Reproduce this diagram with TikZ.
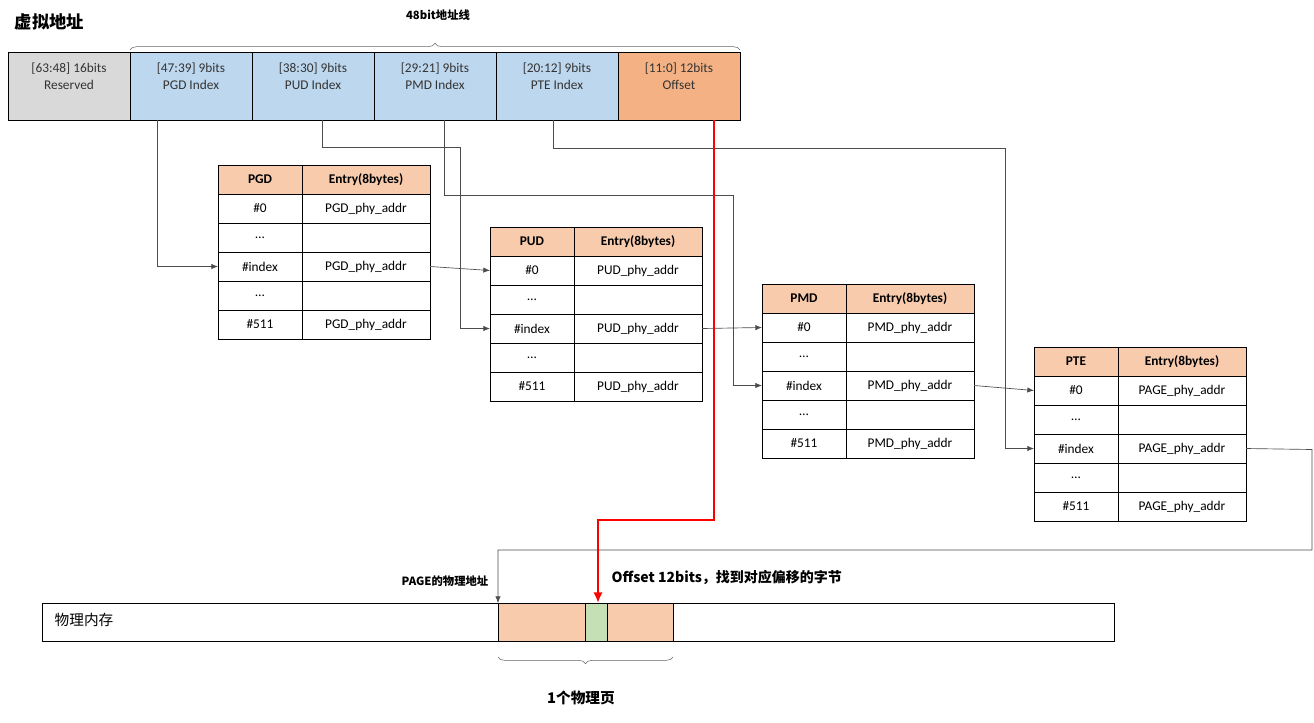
\documentclass[tikz,border=0pt]{standalone}
\usepackage{fontspec}
\setmainfont{Carlito}
\newfontfamily\cjk{Noto Sans CJK SC}
\usetikzlibrary{decorations.pathreplacing,arrows.meta}
\begin{document}
\begin{tikzpicture}[x=0.75pt,y=-0.75pt,
  cell/.style={draw,minimum height=0,inner sep=0,font=\fontsize{10}{12}\selectfont},
  conn/.style={draw=black!70,line width=0.5pt,-{Latex[length=5pt,width=4pt]}},
  brc/.style={draw=black!60,decorate,decoration={brace,amplitude=5pt}}]
\useasboundingbox (0,0) rectangle (1314,722);
\definecolor{gr}{RGB}{217,217,217}
\definecolor{bl}{RGB}{189,215,238}
\definecolor{og}{RGB}{244,177,131}
\definecolor{hd}{RGB}{248,203,173}
\definecolor{gn}{RGB}{197,224,180}
\node[anchor=west,font=\cjk\bfseries\fontsize{13}{15}\selectfont] (title) at (10,22) {虚拟地址};
% top bar
\foreach \x/\c/\a/\b [count=\i] in {8/gr/{[63:48] 16bits}/Reserved,130/bl/{[47:39] 9bits}/PGD Index,252/bl/{[38:30] 9bits}/PUD Index,374/bl/{[29:21] 9bits}/PMD Index,496/bl/{[20:12] 9bits}/PTE Index,618/og/{[11:0] 12bits}/Offset}{
  \draw[fill=\c] (\x,52) rectangle +(122,68);
  \node[font=\fontsize{10}{13}\selectfont,align=center,text=black!80] (v\i) at (\x+61,76) {\a\\\b};
}
\draw[brc] (130,50) -- (740,50);
\node[font=\cjk\bfseries\fontsize{8.5}{10}\selectfont] (lbl48) at (438,15) {48bit地址线};
% tables
\foreach \n/\X/\Y/\e in {PGD/218/165/PGD_phy_addr,PUD/490/227/PUD_phy_addr,PMD/762/284/PMD_phy_addr,PTE/1034/347/PAGE_phy_addr}{
  \fill[hd] (\X,\Y) rectangle (\X+212,\Y+29);
  \draw (\X,\Y) rectangle (\X+212,\Y+174);
  \foreach \k in {1,...,5} \draw (\X,\Y+29*\k) -- (\X+212,\Y+29*\k);
  \draw (\X+84,\Y) -- (\X+84,\Y+174);
  \node[font=\bfseries\fontsize{10}{12}\selectfont] at (\X+42,\Y+14.5) {\n};
  \node[font=\bfseries\fontsize{10}{12}\selectfont] at (\X+148,\Y+14.5) {Entry(8bytes)};
  \foreach \t/\k in {\#0/1,\ldots/2,\#index/3,\ldots/4,\#511/5}
    \node[font=\fontsize{10}{12}\selectfont] at (\X+42,\Y+14.5+29*\k) {\t};
  \foreach \k in {1,3,5}
    \node[font=\fontsize{10}{12}\selectfont] at (\X+148,\Y+14.5+29*\k) {\detokenize\expandafter{\e}};
  \coordinate (\n-idx) at (\X,\Y+101.5);
  \coordinate (\n-out) at (\X+212,\Y+101.5);
  \coordinate (\n-0) at (\X,\Y+43.5);
}
% index connectors
\draw[conn] (157,120) |- (PGD-idx);
\draw[conn] (322,120) -- (322,147) -- (460,147) |- (PUD-idx);
\draw[conn] (444,120) -- (444,195) -- (733,195) |- (PMD-idx);
\draw[conn] (553,120) -- (553,148) -- (1005,148) |- (PTE-idx);
\draw[conn] (PGD-out) -- (PUD-0);
\draw[conn] (PUD-out) -- (PMD-0);
\draw[conn] (PMD-out) -- (PTE-0);
% memory
\draw (42,603) rectangle (1114,641);
\node[anchor=west,font=\cjk\fontsize{11}{13}\selectfont] (mem) at (50,620) {物理内存};
\fill[hd] (498,603) rectangle (673,641);
\fill[gn] (585,603) rectangle (607,641);
\draw (498,603) rectangle (673,641);
\draw (585,603) -- (585,641) (607,603) -- (607,641);
\draw (42,603) rectangle (1114,641);
\coordinate (pg) at (498,603);
\coordinate (off) at (596,603);
\draw[conn] (PTE-out) -- (1312,449.5) -- (1312,550) -- (498,550) -- (pg);
\draw[red,line width=2.2pt,-{Latex[length=8pt,width=7pt]}] (714,120) -- (714,520) -- (598,520) -- (598,603);
\node[anchor=east,font=\cjk\bfseries\fontsize{8.5}{10}\selectfont] (pglbl) at (493,581) {PAGE的物理地址};
\node[anchor=west,font=\cjk\bfseries\fontsize{10.5}{12}\selectfont] (offlbl) at (607,577) {Offset 12bits，找到对应偏移的字节};
\draw[brc] (673,657) -- (498,657);
\node[font=\cjk\bfseries\fontsize{11}{13}\selectfont] (pglabel) at (581,698) {1个物理页};
\end{tikzpicture}
\end{document}
